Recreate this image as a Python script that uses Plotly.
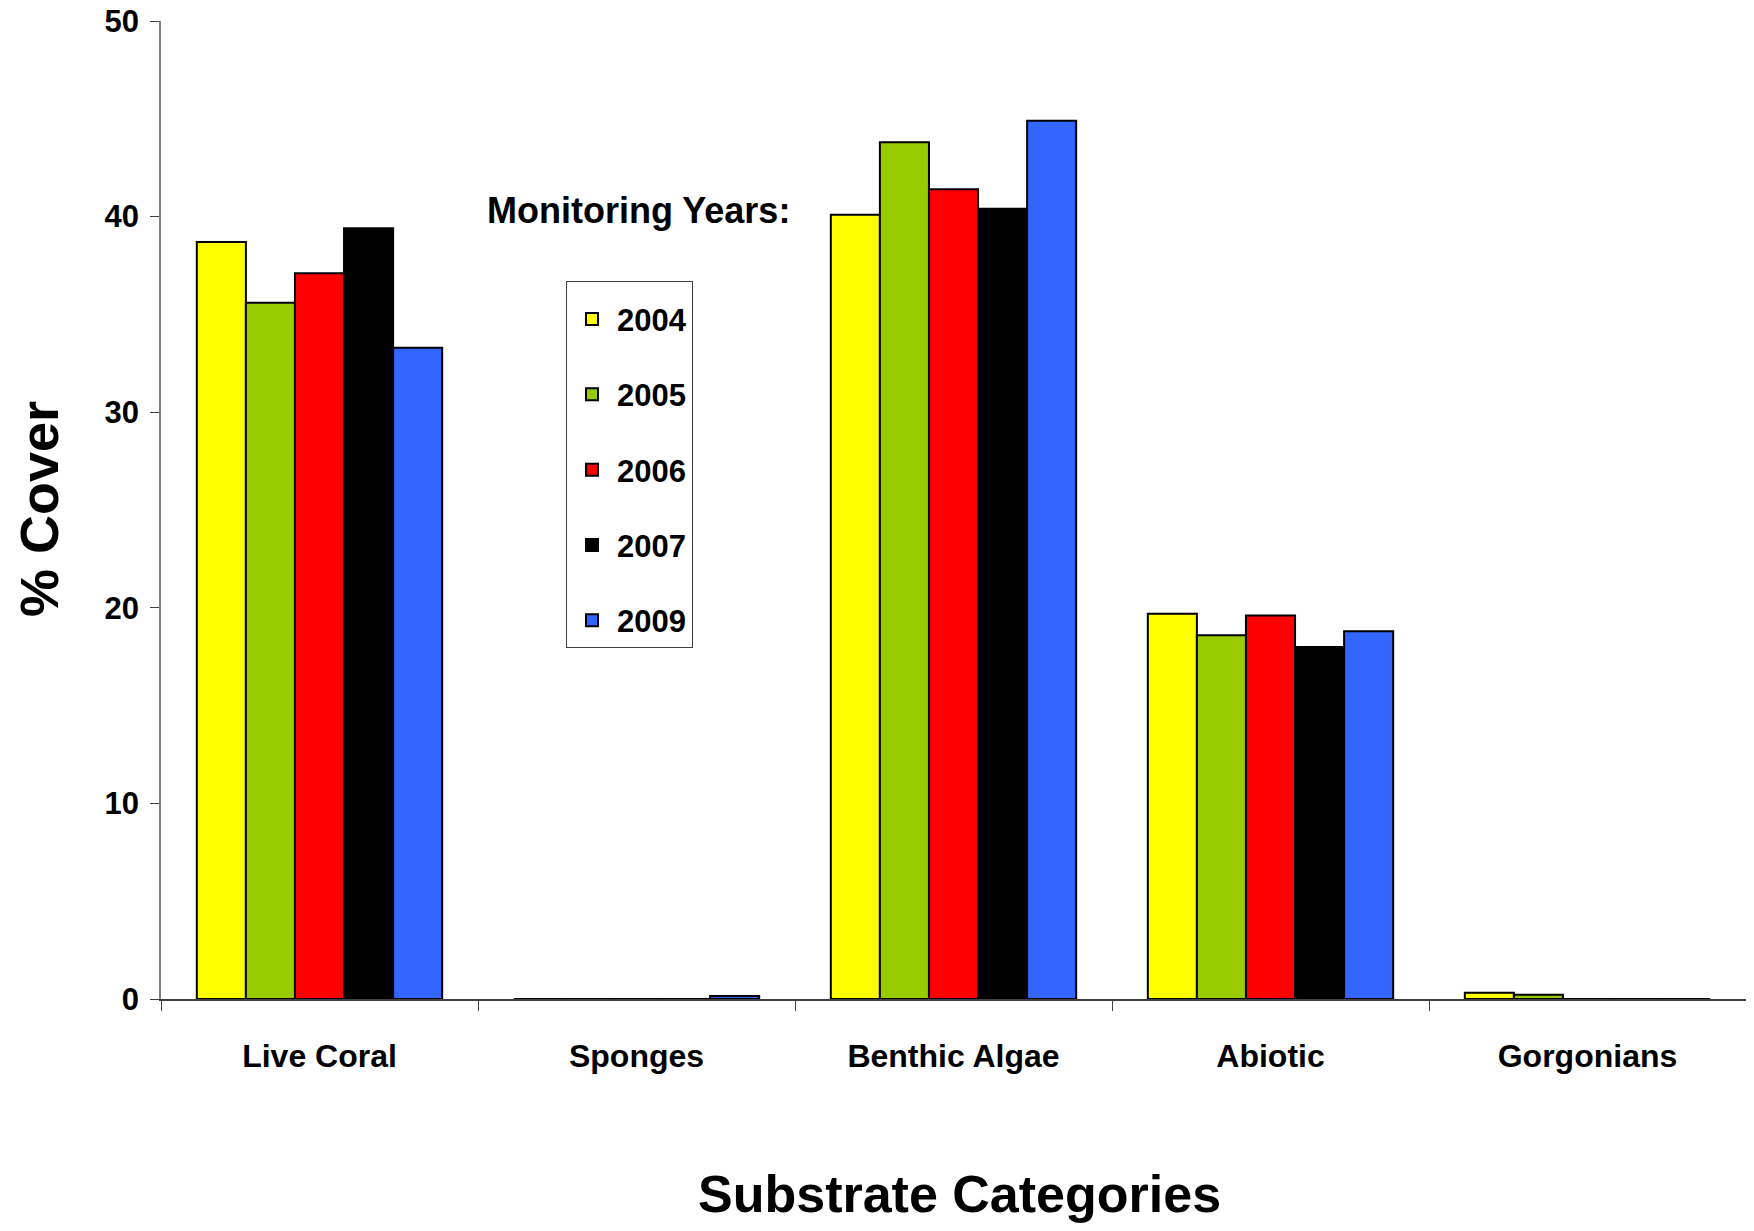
import plotly.graph_objects as go

categories = ["Live Coral", "Sponges", "Benthic Algae", "Abiotic", "Gorgonians"]
years = ["2004", "2005", "2006", "2007", "2009"]
colors = ["#FFFF00", "#99CC00", "#FF0000", "#000000", "#3366FF"]
v2004 = [38.7, 0.0, 40.1, 19.7, 0.32]
v2005 = [35.6, 0.0, 43.8, 18.6, 0.22]
v2006 = [37.1, 0.0, 41.4, 19.6, 0.0]
v2007 = [39.4, 0.0, 40.4, 18.0, 0.0]
v2009 = [33.3, 0.15, 44.9, 18.8, 0.0]
series = [v2004, v2005, v2006, v2007, v2009]

FONT = "Liberation Sans, Arial, sans-serif"

# page has an 8px body margin; plot area in page coords: x 161..1746, y 21..999
PW = 1585.0
PH = 978.0

fig = go.Figure()
for yr, col, vals in zip(years, colors, series):
    fig.add_trace(go.Bar(
        x=categories, y=vals, name=yr, legendgroup=yr,
        marker=dict(color=col, line=dict(color="#000000", width=2)),
    ))

fig.update_layout(
    width=1738, height=1215,
    margin=dict(l=153, r=0, t=13, b=224, autoexpand=False),
    paper_bgcolor="white", plot_bgcolor="white",
    barmode="group", bargap=0.226, bargroupgap=0,
    font=dict(family=FONT, size=32, color="black", weight="bold"),
    showlegend=True,
    legend=dict(
        x=(566 - 161) / PW, y=(999 - 281) / PH, xanchor="left", yanchor="top",
        bordercolor="#404040", borderwidth=1, bgcolor="white",
        font=dict(family=FONT, size=31, color="black", weight="bold"),
        title=dict(text="\u00a0", font=dict(size=8)),
        traceorder="grouped", tracegroupgap=32,
        itemwidth=40, entrywidth=128, entrywidthmode="pixels",
    ),
    xaxis=dict(
        automargin=False,
        showline=True, linecolor="#404040", linewidth=1.5,
        ticks="outside", tickson="boundaries", ticklen=10, tickcolor="#404040",
        ticklabelstandoff=28,
        tickfont=dict(family=FONT, size=32, color="black", weight="bold"),
        showgrid=False,
    ),
    yaxis=dict(
        automargin=False,
        range=[0, 50], dtick=10, showline=True, linecolor="#808080", linewidth=1.5,
        ticks="outside", ticklen=9, tickcolor="#404040",
        ticklabelstandoff=5, ticklabeloverflow="allow",
        tickfont=dict(family=FONT, size=31, color="black", weight="bold"),
        showgrid=False, zeroline=False,
    ),
    annotations=[
        dict(text="Substrate Categories", xref="paper", yref="paper",
             x=(959 - 161) / PW, y=(999 - 1194) / PH,
             showarrow=False, xanchor="center", yanchor="middle",
             font=dict(family=FONT, size=52, color="black", weight="bold")),
        dict(text="% Cover", xref="paper", yref="paper",
             x=(39 - 161) / PW, y=(999 - 509) / PH, textangle=-90,
             showarrow=False, xanchor="center", yanchor="middle",
             font=dict(family=FONT, size=54, color="black", weight="bold")),
        dict(text="Monitoring Years:", xref="paper", yref="paper",
             x=(638 - 161) / PW, y=(999 - 210) / PH,
             showarrow=False, xanchor="center", yanchor="middle",
             font=dict(family=FONT, size=36, color="black", weight="bold")),
    ],
)

fig.write_html("out.html")
